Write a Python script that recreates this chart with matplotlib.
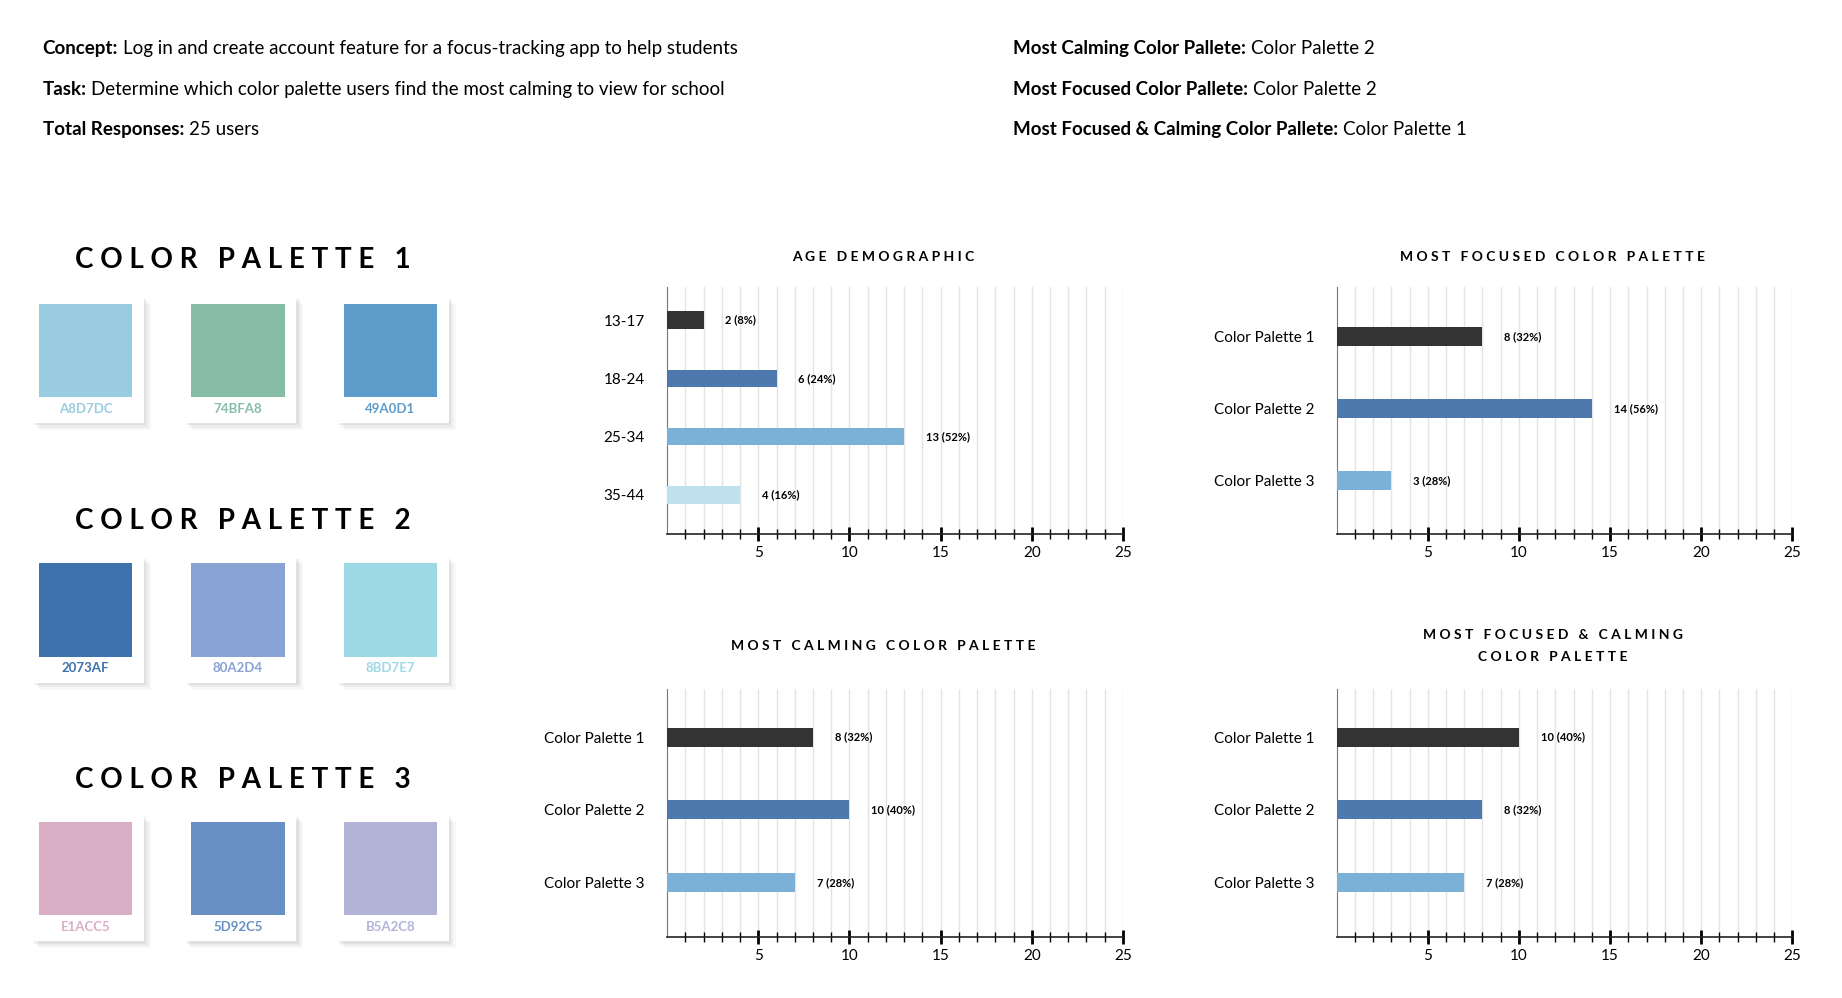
import matplotlib.pyplot as plt
from matplotlib.patches import Rectangle
import numpy as np

plt.rcParams['font.family'] = ['Lato', 'DejaVu Sans']

# data
age_groups = ['13-17', '18-24', '25-34', '35-44']
age_counts = [2, 6, 13, 4]
age_pct = [8, 24, 52, 16]

palettes = ['Color Palette 1', 'Color Palette 2', 'Color Palette 3']
focused_counts = [8, 14, 3]
focused_pct = [32, 56, 28]
calming_counts = [8, 10, 7]
calming_pct = [32, 40, 28]
both_counts = [10, 8, 7]
both_pct = [40, 32, 28]

swatch_hex = [['A8D7DC', '74BFA8', '49A0D1'],
              ['2073AF', '80A2D4', '8BD7E7'],
              ['E1ACC5', '5D92C5', 'B5A2C8']]
swatch_fill = [['#99CCE0', '#87BDA6', '#5E9CCC'],
               ['#3D72AD', '#88A2D3', '#9DD8E5'],
               ['#DBAEC8', '#6990C4', '#B3B3D8']]

bar_colors = ['#333333', '#4E79AF', '#7BB0D7', '#BEE0EF']

W, H = 1560, 845
fig = plt.figure(figsize=(18.42, 9.98), dpi=100)

# background / decorations layer in displayed pixel coords
bg = fig.add_axes([0, 0, 1, 1])
bg.set_xlim(0, W)
bg.set_ylim(H, 0)
bg.axis('off')

# header text
def label_line(x, y, bold, rest):
    t = bg.text(x, y, bold, fontsize=13.5, fontweight='bold', va='center', ha='left')
    fig.canvas.draw()
    bb = t.get_window_extent()
    inv = bg.transData.inverted()
    x1 = inv.transform((bb.x1, bb.y0))[0]
    bg.text(x1 + 4, y, rest, fontsize=13.5, va='center', ha='left')

label_line(36, 41, 'Concept:', 'Log in and create account feature for a focus-tracking app to help students')
label_line(36, 76, 'Task:', 'Determine which color palette users find the most calming to view for school')
label_line(36, 110, 'Total Responses:', '25 users')
label_line(858, 41, 'Most Calming Color Pallete:', 'Color Palette 2')
label_line(858, 76, 'Most Focused Color Pallete:', 'Color Palette 2')
label_line(858, 110, 'Most Focused & Calming Color Pallete:', 'Color Palette 1')

# swatches
title_y = [220, 441, 660]
sq_top = [257, 477, 696]
sq_x = [33, 162, 291]
for r in range(3):
    bg.text(206, title_y[r], 'C O L O R   P A L E T T E   %d' % (r + 1),
            fontsize=20, fontweight='bold', ha='center', va='center')
    for c in range(3):
        x0, y0 = sq_x[c], sq_top[r]
        for k, a in zip([6, 4, 2], [0.06, 0.08, 0.12]):
            bg.add_patch(Rectangle((x0 - 6 + k, y0 - 6 + k), 95, 107, color='#808080', alpha=a, lw=0))
        bg.add_patch(Rectangle((x0 - 6, y0 - 6), 95, 107, color='white', lw=0))
        bg.add_patch(Rectangle((x0, y0), 79, 79, color=swatch_fill[r][c], lw=0))
        bg.text(x0 + 39.5, y0 + 89, swatch_hex[r][c], fontsize=9.5, fontweight='bold',
                color=swatch_fill[r][c], ha='center', va='center')


def bar_chart(rect, cats, counts, pcts, title, pad_top, pad_bot, title_y):
    ax = fig.add_axes(rect)
    y = np.arange(len(cats))
    ax.barh(y, counts, height=0.3 if len(cats) == 4 else 0.26,
            color=bar_colors[:len(cats)], zorder=3)
    for yi, v, p in zip(y, counts, pcts):
        ax.text(v + 1.2, yi, '%d (%d%%)' % (v, p), fontsize=8, fontweight='bold',
                va='center', ha='left', zorder=4)
    ax.set_xlim(0, 25)
    ax.set_ylim(len(cats) - 1 + pad_bot, -pad_top)
    ax.set_yticks(y)
    ax.set_yticklabels(cats, fontsize=11)
    ax.tick_params(axis='y', length=0, pad=16)
    ax.set_xticks([5, 10, 15, 20, 25])
    ax.set_xticks(np.arange(1, 26), minor=True)
    ax.tick_params(axis='x', which='major', direction='inout', length=10, width=2, labelsize=11, pad=4)
    ax.tick_params(axis='x', which='minor', direction='inout', length=7, width=1)
    for xv in range(1, 26):
        ax.axvline(xv, color='#e3e3e3', lw=1, zorder=1)
    for s in ['top', 'right']:
        ax.spines[s].set_visible(False)
    ax.spines['left'].set_color('#777777')
    ax.spines['bottom'].set_color('#222222')
    ax.spines['bottom'].set_linewidth(1.2)
    cx = rect[0] * W + rect[2] * W / 2 - 10
    bg.text(cx, title_y, title, fontsize=10, fontweight='bold', ha='center', va='center',
            linespacing=2.0)
    return ax


top_b, top_h = 1 - 452 / H, 209 / H
bot_b, bot_h = 1 - 793 / H, 210 / H
left1, left2, wd = 565 / W, 1132 / W, 386 / W

bar_chart([left1, top_b, wd, top_h], age_groups, age_counts, age_pct,
          'A G E   D E M O G R A P H I C', 0.57, 0.67, 218)
bar_chart([left2, top_b, wd, top_h], palettes, focused_counts, focused_pct,
          'M O S T   F O C U S E D   C O L O R   P A L E T T E', 0.69, 0.74, 218)
bar_chart([left1, bot_b, wd, bot_h], palettes, calming_counts, calming_pct,
          'M O S T   C A L M I N G   C O L O R   P A L E T T E', 0.67, 0.75, 547)
bar_chart([left2, bot_b, wd, bot_h], palettes, both_counts, both_pct,
          'M O S T   F O C U S E D   &   C A L M I N G\nC O L O R   P A L E T T E', 0.67, 0.75, 547)

fig.savefig('out.png', dpi=100)
